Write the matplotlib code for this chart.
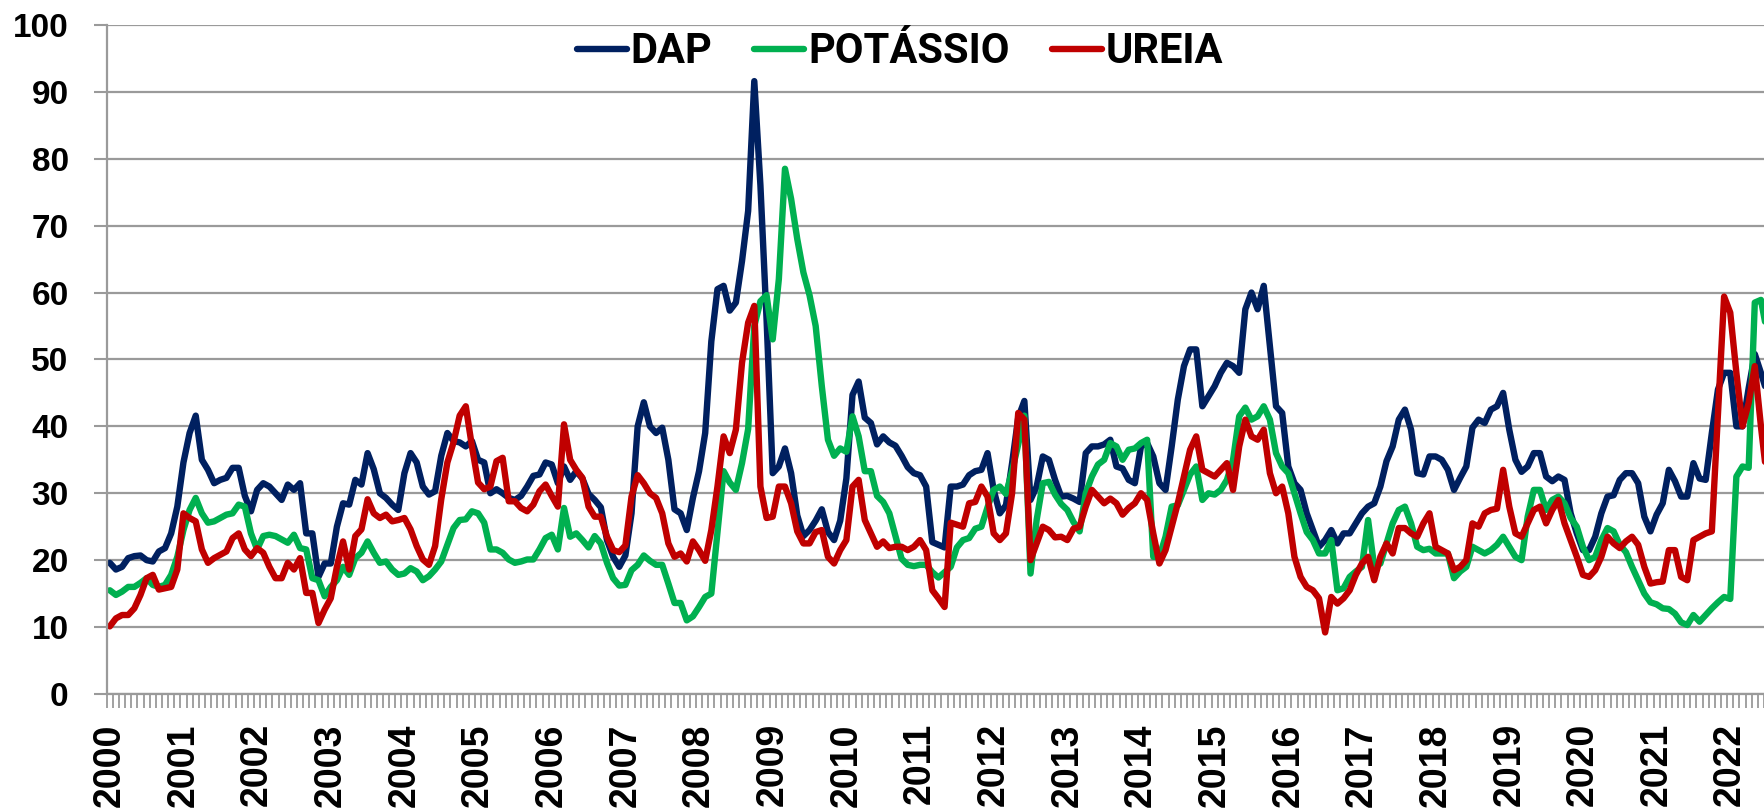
import matplotlib.pyplot as plt
import numpy as np

# Preços mensais (jan/2000 em diante)
dap = [19.6, 18.6, 19.0, 20.3, 20.6, 20.7, 20.0, 19.8, 21.3, 21.8, 24.0, 28.0,
       34.6, 39.0, 41.6, 35.0, 33.5, 31.5, 32.0, 32.3, 33.8, 33.8, 29.6, 27.3,
       30.5, 31.5, 31.0, 30.0, 29.0, 31.3, 30.5, 31.5, 24.0, 24.0, 17.5, 19.5,
       19.5, 25.0, 28.5, 28.3, 32.0, 31.3, 36.0, 33.6, 30.0, 29.3, 28.3, 27.5,
       33.0, 36.0, 34.6, 31.0, 29.8, 30.3, 35.6, 39.0, 37.8, 37.6, 37.0, 37.8,
       35.0, 34.6, 30.0, 30.6, 30.0, 29.3, 29.0, 29.6, 31.0, 32.6, 32.8, 34.6,
       34.3, 31.5, 34.0, 32.0, 33.3, 32.2, 29.9, 29.0, 27.9, 23.0, 20.5, 19.0,
       20.7, 27.0, 40.0, 43.6, 40.0, 39.0, 39.8, 35.0, 27.6, 27.0, 24.5, 29.3,
       33.3, 39.0, 52.7, 60.5, 61.0, 57.3, 58.5, 64.7, 72.2, 91.6, 76.0, 56.0,
       33.0, 34.0, 36.7, 33.0, 26.7, 23.6, 24.5, 25.9, 27.6, 24.2, 23.0, 25.9,
       32.2, 44.7, 46.7, 41.3, 40.5, 37.3, 38.5, 37.6, 37.1, 35.6, 33.9, 33.0,
       32.7, 31.0, 22.7, 22.3, 21.9, 31.0, 31.0, 31.3, 32.7, 33.3, 33.5, 36.0,
       30.5, 27.0, 28.2, 34.5, 41.3, 43.8, 29.0, 31.0, 35.5, 35.0, 32.0, 29.5,
       29.6, 29.2, 28.7, 36.0, 37.0, 37.0, 37.3, 38.0, 34.0, 33.7, 32.0, 31.5,
       37.0, 37.5, 35.5, 31.5, 30.5, 37.0, 44.0, 49.0, 51.5, 51.5, 43.0, 44.5,
       46.0, 48.0, 49.5, 49.0, 48.0, 57.5, 60.0, 57.5, 61.0, 52.0, 43.0, 42.0,
       34.0, 31.5, 30.5, 27.0, 24.5, 22.0, 23.0, 24.5, 22.5, 24.0, 24.0, 25.5,
       27.0, 28.0, 28.5, 31.0, 34.8, 37.0, 41.0, 42.5, 39.5, 33.0, 32.8, 35.5,
       35.5, 35.0, 33.5, 30.5, 32.3, 34.0, 39.8, 41.0, 40.5, 42.5, 43.0, 45.0,
       39.5, 35.0, 33.2, 34.0, 36.0, 36.0, 32.5, 31.8, 32.5, 32.0, 27.0, 24.0,
       21.5, 21.5, 23.5, 27.0, 29.5, 29.7, 32.0, 33.0, 33.0, 31.5, 26.5, 24.3,
       26.8, 28.5, 33.5, 31.8, 29.5, 29.5, 34.5, 32.2, 32.0, 39.0, 45.5, 48.0,
       48.0, 40.0, 40.0, 45.7, 50.8, 48.0, 45.0]

potassio = [15.5, 14.8, 15.3, 16.0, 16.0, 16.6, 17.3, 16.3, 16.0, 16.3, 17.8, 20.5,
            24.5, 27.5, 29.3, 27.0, 25.6, 25.8, 26.3, 26.8, 27.0, 28.3, 28.0, 24.0,
            21.6, 23.6, 23.8, 23.6, 23.1, 22.6, 23.8, 21.8, 21.6, 17.3, 17.0, 14.6,
            16.0, 17.0, 19.0, 17.8, 20.3, 21.1, 22.8, 21.1, 19.6, 19.8, 18.6, 17.8,
            18.0, 18.8, 18.3, 17.0, 17.6, 18.6, 19.8, 22.3, 24.8, 26.0, 26.1, 27.3,
            27.0, 25.6, 21.6, 21.6, 21.1, 20.1, 19.6, 19.8, 20.1, 20.1, 21.6, 23.3,
            23.8, 21.6, 27.8, 23.5, 24.0, 23.0, 21.9, 23.6, 22.5, 19.6, 17.3, 16.2,
            16.3, 18.5, 19.3, 20.7, 19.9, 19.3, 19.3, 16.5, 13.6, 13.6, 11.0, 11.6,
            13.0, 14.5, 15.0, 24.2, 33.3, 31.6, 30.5, 34.5, 39.6, 55.0, 58.7, 59.6,
            53.0, 62.0, 78.5, 74.0, 68.0, 63.0, 59.6, 55.0, 46.0, 38.0, 35.6, 36.7,
            36.2, 41.5, 38.5, 33.3, 33.3, 29.6, 28.7, 27.0, 23.6, 20.2, 19.3, 19.1,
            19.3, 19.3, 18.2, 17.4, 18.2, 19.0, 21.9, 23.0, 23.3, 24.7, 25.0, 27.9,
            30.5, 31.0, 29.9, 33.3, 37.3, 41.6, 18.0, 26.0, 31.5, 31.7, 29.8, 28.4,
            27.5, 25.7, 24.3, 30.0, 32.5, 34.3, 35.0, 37.5, 37.0, 35.0, 36.5, 36.7,
            37.5, 38.0, 20.5, 20.5, 23.5, 28.0, 28.2, 30.5, 32.8, 34.0, 29.0, 30.0,
            29.8, 30.5, 32.0, 35.0, 41.5, 42.8, 41.0, 41.5, 43.0, 41.0, 36.0, 34.0,
            33.0, 30.0, 27.0, 24.2, 23.0, 21.0, 21.0, 23.0, 15.5, 15.8, 17.5, 18.3,
            19.0, 26.0, 19.0, 19.5, 22.5, 25.5, 27.5, 28.0, 25.5, 22.0, 21.5, 21.7,
            21.0, 21.0, 21.0, 17.3, 18.3, 19.0, 22.0, 21.5, 21.0, 21.5, 22.3, 23.5,
            22.0, 20.5, 20.0, 26.5, 30.5, 30.5, 27.5, 29.0, 29.5, 28.5, 26.3, 25.0,
            22.0, 20.0, 20.5, 23.0, 24.8, 24.3, 22.3, 21.2, 19.0, 17.0, 15.0, 13.7,
            13.4, 12.8, 12.7, 12.0, 10.7, 10.3, 11.8, 10.8, 11.8, 12.8, 13.7, 14.5,
            14.2, 32.5, 34.0, 33.8, 58.5, 58.9, 54.0]

ureia = [10.1, 11.3, 11.8, 11.8, 12.8, 14.8, 17.3, 17.8, 15.6, 15.8, 16.0, 18.6,
         27.0, 26.3, 25.8, 21.6, 19.6, 20.3, 20.8, 21.3, 23.3, 24.0, 21.6, 20.6,
         21.8, 21.1, 19.0, 17.3, 17.3, 19.6, 18.6, 20.3, 15.1, 15.1, 10.6, 12.6,
         14.3, 19.0, 22.8, 18.6, 23.6, 24.6, 29.1, 27.0, 26.3, 26.8, 25.8, 26.0,
         26.3, 24.6, 22.1, 20.1, 19.3, 22.1, 29.1, 34.6, 37.6, 41.6, 43.0, 37.0,
         31.6, 30.6, 31.0, 34.8, 35.3, 28.8, 28.8, 27.8, 27.3, 28.3, 30.3, 31.3,
         29.6, 28.0, 40.3, 35.0, 33.5, 32.3, 28.0, 26.5, 26.5, 23.5, 21.5, 21.2,
         22.2, 29.5, 32.7, 31.5, 30.0, 29.3, 27.0, 22.5, 20.5, 21.0, 19.8, 22.8,
         21.5, 19.9, 24.5, 31.0, 38.5, 36.0, 39.5, 49.5, 55.5, 58.0, 31.0, 26.3,
         26.5, 31.0, 31.0, 28.5, 24.3, 22.5, 22.5, 24.2, 24.5, 20.5, 19.5, 21.5,
         23.0, 31.0, 32.0, 26.0, 24.0, 22.0, 22.8, 21.8, 22.0, 22.0, 21.5, 22.0,
         23.0, 21.5, 15.5, 14.3, 13.0, 25.6, 25.3, 25.0, 28.5, 28.7, 31.0, 29.5,
         24.0, 23.0, 24.0, 30.0, 42.0, 41.0, 20.0, 22.5, 25.0, 24.5, 23.4, 23.5,
         23.0, 24.7, 25.0, 28.0, 30.5, 29.5, 28.5, 29.2, 28.5, 26.8, 27.8, 28.5,
         30.0, 29.0, 24.0, 19.5, 21.5, 25.0, 28.5, 32.5, 36.5, 38.5, 33.5, 33.0,
         32.5, 33.5, 34.5, 30.5, 37.0, 41.0, 38.5, 38.0, 39.5, 33.0, 30.0, 31.0,
         27.0, 20.5, 17.5, 16.0, 15.5, 14.3, 9.2, 14.5, 13.5, 14.3, 15.5, 17.8,
         19.5, 20.5, 17.0, 20.5, 22.5, 21.0, 24.8, 24.8, 24.0, 23.5, 25.5, 27.0,
         22.0, 21.5, 21.0, 18.5, 19.0, 20.0, 25.5, 25.0, 27.0, 27.5, 27.7, 33.5,
         28.0, 24.0, 23.5, 25.5, 27.5, 28.0, 25.5, 27.5, 29.0, 25.5, 23.0, 20.5,
         17.8, 17.5, 18.5, 20.5, 23.5, 22.5, 21.8, 22.8, 23.5, 22.3, 19.0, 16.5,
         16.7, 16.8, 21.5, 21.5, 17.5, 17.0, 23.0, 23.5, 24.0, 24.3, 42.0, 59.4,
         57.0, 48.0, 40.0, 43.5, 49.0, 40.0, 32.0]

anos = list(range(2000, 2023))

x = np.arange(len(dap))
cinza = "#9a9a9a"

fig = plt.figure(figsize=(17.64, 8.09), dpi=100)
ax = fig.add_axes([0.0605, 0.1422, 0.9395, 0.827])

# Linhas
estilo = dict(linewidth=4.6, solid_joinstyle="round", solid_capstyle="round")
ax.plot(x, dap, color="#002060", label="DAP", **estilo)
ax.plot(x, potassio, color="#00B050", label="POTÁSSIO", **estilo)
ax.plot(x, ureia, color="#C00000", label="UREIA", **estilo)

# Eixos
ax.set_xlim(-0.5, 269.4)
ax.set_ylim(0, 100)
ax.set_yticks(np.arange(0, 101, 10))
ax.yaxis.grid(True, color=cinza, linewidth=1.6)
ax.set_axisbelow(True)

ax.set_xticks(np.arange(0, len(anos) * 12, 12))
ax.set_xticklabels([str(a) for a in anos], rotation=90,
                   fontfamily="Liberation Sans", fontweight="bold", fontsize=27)
ax.set_xticks(np.arange(-0.5, 270, 1), minor=True)
ax.tick_params(axis="x", which="major", length=0, pad=21)
ax.tick_params(axis="x", which="minor", length=10, width=1.3, color=cinza)

for lbl in ax.get_yticklabels():
    lbl.set_fontfamily("Liberation Sans")
    lbl.set_fontweight("bold")
    lbl.set_fontsize(24)
ax.tick_params(axis="y", length=9.4, width=1.5, color=cinza, pad=18)

for lado in ["top", "right"]:
    ax.spines[lado].set_visible(False)
for lado in ["left", "bottom"]:
    ax.spines[lado].set_color(cinza)
    ax.spines[lado].set_linewidth(1.6)

# Legenda
ax.legend(loc="center", bbox_to_anchor=(0.4786, 0.96), ncol=3, frameon=False,
          prop={"family": "Roboto", "weight": "bold", "size": 30},
          handlelength=1.2, handletextpad=0.1, columnspacing=1.0)

fig.savefig("out.png", dpi=100)
